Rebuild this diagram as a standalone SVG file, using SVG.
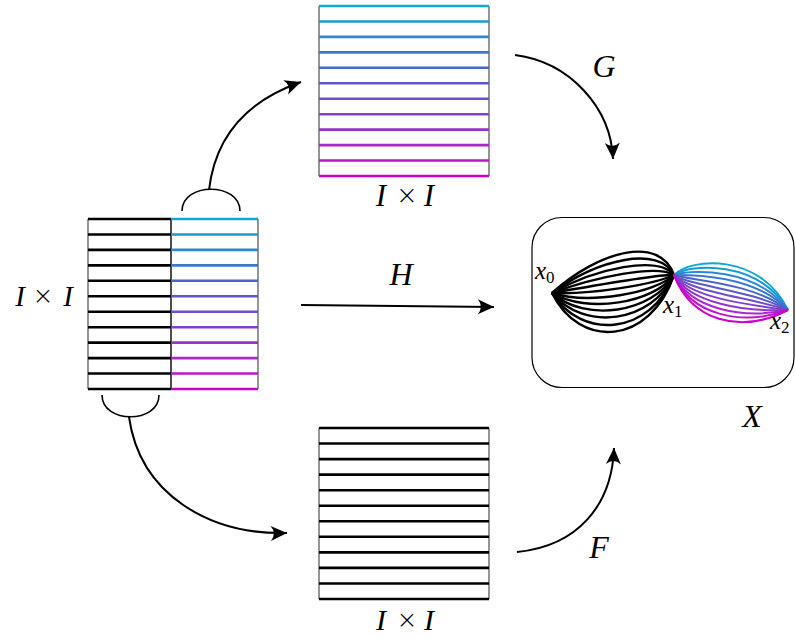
<svg xmlns="http://www.w3.org/2000/svg" width="795" height="638" viewBox="0 0 795 638">
<style>
.lbl{font-family:"Liberation Serif","DejaVu Serif",serif;font-style:italic;fill:#000}
.tm{font-family:"DejaVu Sans","Liberation Sans",sans-serif;font-style:normal;font-weight:300;fill:#000}
.side{stroke:#7a7a7a;stroke-width:1.6;fill:none}
.hl{stroke-width:2.6;fill:none}
.conn{stroke:#000;stroke-width:2;fill:none}
.brace{stroke:#000;stroke-width:1.6;fill:none}
.c0{stroke:#0fa9d3}.c1{stroke:#1a9ad2}.c2{stroke:#2888d4}.c3{stroke:#3878d2}.c4{stroke:#4866cc}.c5{stroke:#5a58cb}
.c6{stroke:#6e4ecc}.c7{stroke:#8040cc}.c8{stroke:#9434c8}.c9{stroke:#a828c8}.c10{stroke:#bc16c8}.c11{stroke:#cc00cc}
.bk{stroke:#000}
.lens{fill:none;stroke-width:2.4}
.lensc{fill:none;stroke-width:2}
.sub{font-family:"Liberation Serif","DejaVu Serif",serif;font-style:normal;font-size:17px;fill:#000}
</style>
<defs>
<marker id="ah" markerUnits="userSpaceOnUse" markerWidth="20" markerHeight="20" viewBox="-14 -8 16 16" refX="0" refY="0" orient="auto">
<path d="M0,0 L-13,-6 Q-8,0 -13,6 Z" fill="#000"/>
</marker>
</defs>

<g id="top-square">
<line class="side" x1="319" y1="6" x2="319" y2="176"/>
<line class="side" x1="489" y1="6" x2="489" y2="176"/>
<line class="hl c0" x1="319" y1="6" x2="489" y2="6"/>
<line class="hl c1" x1="319" y1="21.5" x2="489" y2="21.5"/>
<line class="hl c2" x1="319" y1="36.9" x2="489" y2="36.9"/>
<line class="hl c3" x1="319" y1="52.4" x2="489" y2="52.4"/>
<line class="hl c4" x1="319" y1="67.8" x2="489" y2="67.8"/>
<line class="hl c5" x1="319" y1="83.3" x2="489" y2="83.3"/>
<line class="hl c6" x1="319" y1="98.7" x2="489" y2="98.7"/>
<line class="hl c7" x1="319" y1="114.2" x2="489" y2="114.2"/>
<line class="hl c8" x1="319" y1="129.6" x2="489" y2="129.6"/>
<line class="hl c9" x1="319" y1="145.1" x2="489" y2="145.1"/>
<line class="hl c10" x1="319" y1="160.5" x2="489" y2="160.5"/>
<line class="hl c11" x1="319" y1="176" x2="489" y2="176"/>
<text class="lbl" font-size="31" text-anchor="middle"><tspan x="381" y="206">I</tspan><tspan class="tm" font-size="26" x="407" y="204">×</tspan><tspan x="429" y="206">I</tspan></text>
</g>

<g id="left-block">
<line class="side" x1="88" y1="219" x2="88" y2="389"/>
<line class="side" x1="258" y1="219" x2="258" y2="389"/>
<line x1="171" y1="219" x2="171" y2="389" stroke="#000" stroke-width="1.4"/>
<g class="hl bk">
<line x1="88" y1="219" x2="171" y2="219"/>
<line x1="88" y1="234.5" x2="171" y2="234.5"/>
<line x1="88" y1="249.9" x2="171" y2="249.9"/>
<line x1="88" y1="265.4" x2="171" y2="265.4"/>
<line x1="88" y1="280.8" x2="171" y2="280.8"/>
<line x1="88" y1="296.3" x2="171" y2="296.3"/>
<line x1="88" y1="311.7" x2="171" y2="311.7"/>
<line x1="88" y1="327.2" x2="171" y2="327.2"/>
<line x1="88" y1="342.6" x2="171" y2="342.6"/>
<line x1="88" y1="358.1" x2="171" y2="358.1"/>
<line x1="88" y1="373.5" x2="171" y2="373.5"/>
<line x1="88" y1="389" x2="171" y2="389"/>
</g>
<line class="hl c0" x1="171" y1="219" x2="258" y2="219"/>
<line class="hl c1" x1="171" y1="234.5" x2="258" y2="234.5"/>
<line class="hl c2" x1="171" y1="249.9" x2="258" y2="249.9"/>
<line class="hl c3" x1="171" y1="265.4" x2="258" y2="265.4"/>
<line class="hl c4" x1="171" y1="280.8" x2="258" y2="280.8"/>
<line class="hl c5" x1="171" y1="296.3" x2="258" y2="296.3"/>
<line class="hl c6" x1="171" y1="311.7" x2="258" y2="311.7"/>
<line class="hl c7" x1="171" y1="327.2" x2="258" y2="327.2"/>
<line class="hl c8" x1="171" y1="342.6" x2="258" y2="342.6"/>
<line class="hl c9" x1="171" y1="358.1" x2="258" y2="358.1"/>
<line class="hl c10" x1="171" y1="373.5" x2="258" y2="373.5"/>
<line class="hl c11" x1="171" y1="389" x2="258" y2="389"/>
<text class="lbl" font-size="29" text-anchor="middle"><tspan x="20" y="306">I</tspan><tspan class="tm" font-size="25" x="43" y="304">×</tspan><tspan x="68" y="306">I</tspan></text>
</g>

<g id="bottom-square">
<line class="side" x1="319" y1="428" x2="319" y2="599"/>
<line class="side" x1="489" y1="428" x2="489" y2="599"/>
<g class="hl bk">
<line x1="319" y1="428" x2="489" y2="428"/>
<line x1="319" y1="443.5" x2="489" y2="443.5"/>
<line x1="319" y1="459.1" x2="489" y2="459.1"/>
<line x1="319" y1="474.6" x2="489" y2="474.6"/>
<line x1="319" y1="490.2" x2="489" y2="490.2"/>
<line x1="319" y1="505.7" x2="489" y2="505.7"/>
<line x1="319" y1="521.3" x2="489" y2="521.3"/>
<line x1="319" y1="536.8" x2="489" y2="536.8"/>
<line x1="319" y1="552.4" x2="489" y2="552.4"/>
<line x1="319" y1="567.9" x2="489" y2="567.9"/>
<line x1="319" y1="583.5" x2="489" y2="583.5"/>
<line x1="319" y1="599" x2="489" y2="599"/>
</g>
<text class="lbl" font-size="30" text-anchor="middle"><tspan x="381" y="630">I</tspan><tspan class="tm" font-size="25" x="407" y="628">×</tspan><tspan x="429" y="630">I</tspan></text>
</g>

<g id="space-X">
<rect x="532" y="217.5" width="262" height="170" rx="30" ry="30" fill="none" stroke="#000" stroke-width="1.2"/>
<g class="lens bk">
<path d="M552,293 C600,250 660,235 674,275"/>
<path d="M552,293 C598,259 659,245 674,275"/>
<path d="M552,293 C596,268 658,255 674,275"/>
<path d="M552,293 C595,277 657,264 674,275"/>
<path d="M552,293 C593,286 656,274 674,275"/>
<path d="M552,293 C591,295 655,284 674,275"/>
<path d="M552,293 C589,305 655,293 674,275"/>
<path d="M552,293 C587,314 654,303 674,275"/>
<path d="M552,293 C585,323 653,313 674,275"/>
<path d="M552,293 C584,332 652,323 674,275"/>
<path d="M552,293 C582,341 651,335 674,275"/>
<path d="M552,293 C580,350 650,345 674,275"/>
</g>
<g class="lensc">
<path class="c0" d="M674,275 C690,258 760,252 788,310"/>
<path class="c1" d="M674,275 C690,263.6 758,259.5 788,310"/>
<path class="c2" d="M674,275 C690,269.3 756,267 788,310"/>
<path class="c3" d="M674,275 C690,274.9 754,274.5 788,310"/>
<path class="c4" d="M674,275 C690,280.5 752,282 788,310"/>
<path class="c5" d="M674,275 C690,286.2 750,289.5 788,310"/>
<path class="c6" d="M674,275 C690,291.8 748,297 788,310"/>
<path class="c7" d="M674,275 C690,297.5 746,304.5 788,310"/>
<path class="c8" d="M674,275 C690,303 744,312 788,310"/>
<path class="c9" d="M674,275 C690,308.7 742,319.5 788,310"/>
<path class="c10" d="M674,275 C690,314.3 741,327 788,310"/>
<path class="c11" d="M674,275 C690,320 740,335 788,310"/>
</g>
<text class="lbl" x="535" y="279" font-size="25">x<tspan class="sub" dy="4">0</tspan></text>
<text class="lbl" x="663" y="313" font-size="25">x<tspan class="sub" dy="4">1</tspan></text>
<text class="lbl" x="770" y="329" font-size="25">x<tspan class="sub" dy="4">2</tspan></text>
<text class="lbl" x="752" y="427" font-size="32" text-anchor="middle">X</text>
</g>

<g id="connectors">
<path class="brace" d="M182,211 C182,182 240,182 240,211"/>
<path class="brace" d="M102,395 C102,424 159,424 159,395"/>
<path class="conn" d="M209,190 C216,130 255,98 301,82" marker-end="url(#ah)"/>
<path class="conn" d="M129,417 C140,495 210,535 287,533" marker-end="url(#ah)"/>
<path class="conn" d="M301,305 L494,307" marker-end="url(#ah)"/>
<path class="conn" d="M515,55 C570,62 611,108 613,159" marker-end="url(#ah)"/>
<path class="conn" d="M517,552 C578,546 612,505 614,448" marker-end="url(#ah)"/>
<text class="lbl" x="401" y="285" font-size="32" text-anchor="middle">H</text>
<text class="lbl" x="604" y="77" font-size="32" text-anchor="middle">G</text>
<text class="lbl" x="599" y="558" font-size="32" text-anchor="middle">F</text>
</g>
</svg>
